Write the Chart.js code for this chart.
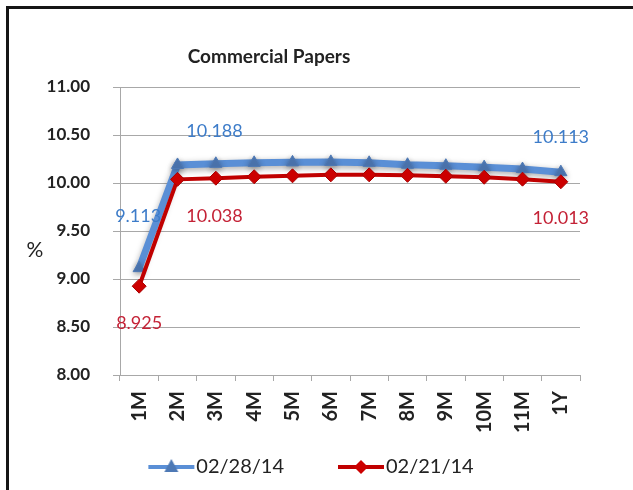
<!DOCTYPE html>
<html>
<head>
<meta charset="utf-8">
<script src="https://cdn.jsdelivr.net/npm/chart.js"></script>
<style>
  body { margin: 0; background: #fff; }
  #wrap { position: relative; width: 633px; height: 490px; }
  #frame {
    position: absolute; left: 6px; top: 6px; width: 627px; height: 481px;
    border-top: 3px solid #151515; border-left: 3px solid #151515;
    border-bottom: 1px solid #dcdcdc; pointer-events: none;
  }
  canvas { position: absolute; left: 0; top: 0; }
</style>
</head>
<body>
<div id="wrap">
  <canvas id="cpChart" width="633" height="490"></canvas>
  <div id="frame"></div>
</div>
<script>
// ---- data ----
const tenors = ['1M', '2M', '3M', '4M', '5M', '6M', '7M', '8M', '9M', '10M', '11M', '1Y'];
const rates0228 = [9.113, 10.188, 10.2, 10.21, 10.215, 10.22, 10.21, 10.19, 10.18, 10.165, 10.145, 10.113];
const rates0221 = [8.925, 10.038, 10.05, 10.065, 10.075, 10.085, 10.085, 10.08, 10.07, 10.06, 10.04, 10.013];
const labels0228 = ['9.113', '10.188', null, null, null, null, null, null, null, null, null, '10.113'];
const labels0221 = ['8.925', '10.038', null, null, null, null, null, null, null, null, null, '10.013'];
const yTicks = [8.0, 8.5, 9.0, 9.5, 10.0, 10.5, 11.0];

const FONT = 'Lato, "Open Sans", sans-serif';
const BLUE = '#5a8fd6';
const RED = '#c00000';

// legend icons: line with marker
function makeIcon(color, shape) {
    const c = document.createElement('canvas');
    c.width = 100; c.height = 20;
    const g = c.getContext('2d');
    g.strokeStyle = color; g.lineWidth = 4;
    g.beginPath(); g.moveTo(52, 10); g.lineTo(98, 10); g.stroke();
    g.fillStyle = shape === 'tri' ? '#4e79b5' : '#cc0000';
    g.beginPath();
    if (shape === 'tri') {
        g.moveTo(75, 2); g.lineTo(82, 15); g.lineTo(68, 15);
    } else {
        g.moveTo(75, 3); g.lineTo(82, 10); g.lineTo(75, 17); g.lineTo(68, 10);
    }
    g.closePath(); g.fill();
    return c;
}
const legendIcons = [makeIcon(BLUE, 'tri'), makeIcon(RED, 'dia')];

// blue series gets a soft shadow like the original
const shadowPlugin = {
    id: 'shadow',
    beforeDatasetDraw(chart, args) {
        if (args.index !== 0) return;
        const ctx = chart.ctx;
        ctx.save();
        ctx.shadowColor = 'rgba(0,0,0,0.35)';
        ctx.shadowBlur = 6;
        ctx.shadowOffsetY = 2;
    },
    afterDatasetDraw(chart, args) {
        if (args.index === 0) chart.ctx.restore();
    }
};

// data labels + free text (title, axis unit)
const labelOffsets = [
    { 0: [-1, -52], 1: [37, -34], 11: [0, -35] },
    { 0: [0, 37], 1: [37, 37], 11: [0, 36] }
];
const labelColors = ['#3d7cc9', '#c42236'];
const textPlugin = {
    id: 'texts',
    afterDatasetsDraw(chart) {
        const ctx = chart.ctx;
        const area = chart.chartArea;
        ctx.save();
        ctx.textAlign = 'center';
        ctx.textBaseline = 'middle';
        [labels0228, labels0221].forEach((lbls, di) => {
            const meta = chart.getDatasetMeta(di);
            lbls.forEach((t, i) => {
                if (!t) return;
                const p = meta.data[i];
                const off = labelOffsets[di][i] || [0, -20];
                ctx.font = '18px ' + FONT;
                ctx.fillStyle = labelColors[di];
                ctx.fillText(t, p.x + off[0], p.y + off[1]);
            });
        });
        ctx.fillStyle = '#222';
        ctx.font = 'bold 19px ' + FONT;
        ctx.fillText('Commercial Papers', area.left + 149, 57);
        ctx.font = '21px ' + FONT;
        ctx.fillText('%', 35, 250);
        ctx.restore();
    }
};

new Chart(document.getElementById('cpChart'), {
    type: 'line',
    data: {
        labels: tenors,
        datasets: [
            {
                label: '02/28/14',
                data: rates0228,
                borderColor: BLUE,
                borderWidth: 7,
                pointStyle: 'triangle',
                pointRadius: 7,
                pointBackgroundColor: '#4e79b5',
                pointBorderColor: '#4e79b5',
                pointBorderWidth: 1,
                tension: 0,
                order: 1
            },
            {
                label: '02/21/14',
                data: rates0221,
                borderColor: RED,
                borderWidth: 4,
                pointStyle: 'rectRot',
                pointRadius: 7,
                pointBackgroundColor: '#cc0000',
                pointBorderColor: '#a80000',
                pointBorderWidth: 1,
                tension: 0,
                order: 0
            }
        ]
    },
    options: {
        responsive: false,
        animation: false,
        layout: { padding: { top: 87, right: 53, bottom: 3, left: 0 } },
        plugins: {
            title: { display: false },
            tooltip: { enabled: false },
            legend: {
                position: 'bottom',
                labels: {
                    usePointStyle: true,
                    pointStyleWidth: 80,
                    padding: 12,
                    color: '#222',
                    font: { family: FONT, size: 20 },
                    sort: (a, b) => a.datasetIndex - b.datasetIndex,
                    generateLabels: chart =>
                        Chart.defaults.plugins.legend.labels.generateLabels(chart)
                            .map(it => ({ ...it, pointStyle: legendIcons[it.datasetIndex] }))
                }
            }
        },
        scales: {
            x: {
                offset: true,
                afterFit: s => { s.height = 70; },
                grid: {
                    offset: true,
                    drawOnChartArea: false,
                    drawTicks: true,
                    tickLength: 6,
                    color: '#a8a8a8'
                },
                border: { color: '#a8a8a8' },
                ticks: {
                    minRotation: 90,
                    maxRotation: 90,
                    padding: 10,
                    color: '#222',
                    font: { family: FONT, size: 20, weight: 'bold' }
                }
            },
            y: {
                min: 8,
                max: 11,
                afterFit: s => { s.width = 120; },
                afterBuildTicks: s => { s.ticks = yTicks.map(v => ({ value: v })); },
                grid: { color: '#a8a8a8', tickLength: 7 },
                border: { color: '#a8a8a8' },
                ticks: {
                    padding: 23,
                    color: '#222',
                    font: { family: FONT, size: 17, weight: 'bold' },
                    callback: v => Number(v).toFixed(2)
                }
            }
        }
    },
    plugins: [shadowPlugin, textPlugin]
});
</script>
</body>
</html>
